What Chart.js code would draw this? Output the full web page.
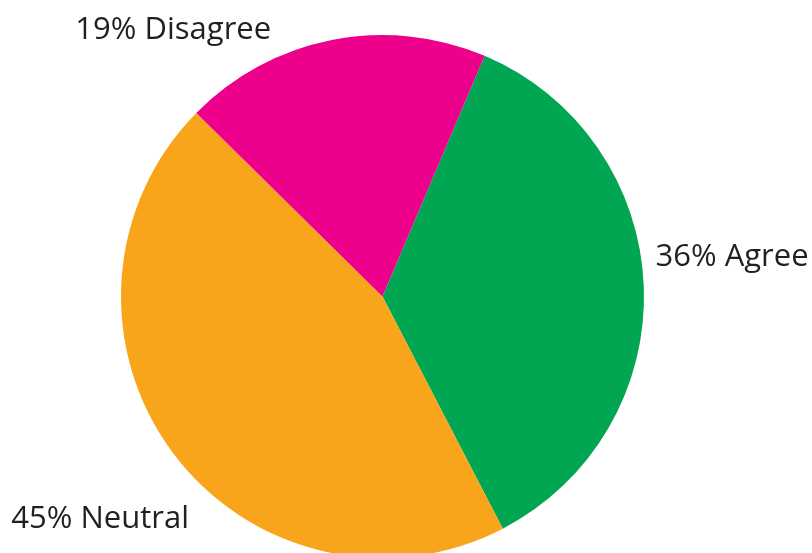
<!DOCTYPE html>
<html>
<head>
<meta charset="utf-8">
<script src="https://cdn.jsdelivr.net/npm/chart.js@4/dist/chart.umd.min.js"></script>
<style>
  html, body { margin: 0; padding: 0; background: #fff; overflow: hidden; }
  #wrap { width: 812px; height: 553px; overflow: hidden; }
  #box { width: 812px; height: 560px; }
</style>
</head>
<body>
<div id="wrap"><div id="box"><canvas id="pie"></canvas></div></div>
<script>
// answers, in drawing order (clockwise from the top of the pie)
const categories = ['Agree', 'Neutral', 'Disagree'];
const shares = [36, 45, 19];
const sliceColors = ['#00A651', '#F8A51C', '#EC008C'];

// outside labels: "NN% Name", placed off each slice's middle angle
const outsideLabels = {
    id: 'outsideLabels',
    afterDraw(chart, args, opts) {
        const ctx = chart.ctx;
        const meta = chart.getDatasetMeta(0);
        ctx.save();
        ctx.font = opts.font;
        ctx.fillStyle = opts.color;
        ctx.textAlign = 'center';
        ctx.textBaseline = 'middle';
        meta.data.forEach((arc, i) => {
            const p = arc.getProps(['x', 'y', 'startAngle', 'endAngle', 'outerRadius'], true);
            const mid = (p.startAngle + p.endAngle) / 2 + (opts.shift[i] || 0) * Math.PI / 180;
            const r = p.outerRadius * opts.dist[i];
            const txt = shares[i] + '% ' + categories[i];
            ctx.fillText(txt, p.x + Math.cos(mid) * r, p.y + Math.sin(mid) * r);
        });
        ctx.restore();
    }
};

new Chart(document.getElementById('pie').getContext('2d'), {
    type: 'pie',
    data: {
        labels: categories,
        datasets: [{ data: shares, backgroundColor: sliceColors, borderWidth: 0 }]
    },
    options: {
        responsive: true,
        maintainAspectRatio: false,
        animation: false,
        rotation: 23,
        layout: { padding: { left: 121, right: 168, top: 35, bottom: 2 } },
        plugins: {
            legend: { display: false },
            tooltip: { enabled: false },
            outsideLabels: {
                font: '31px "Open Sans"',
                color: '#231F20',
                shift: [-4.2, -1.8, -27],
                dist: [1.345, 1.374, 1.294]
            }
        }
    },
    plugins: [outsideLabels]
});
</script>
</body>
</html>
